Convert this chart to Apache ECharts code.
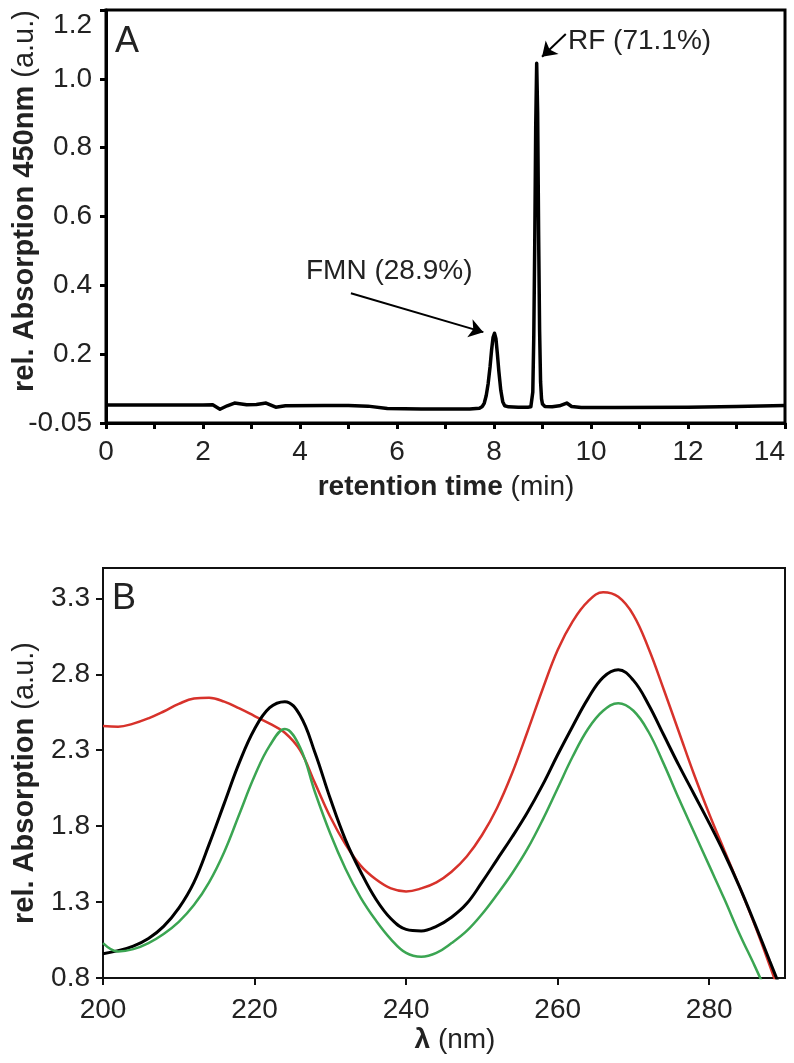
<!DOCTYPE html>
<html lang="en">
<head>
<meta charset="UTF-8">
<script src="https://cdn.jsdelivr.net/npm/echarts@6/dist/echarts.min.js"></script>
<title>HPLC and UV spectra</title>
<style>
  body { margin: 0; background: #fff; }
  #chart { width: 794px; height: 1063px; }
</style>
</head>
<body>
<div id="chart"></div>
<script>
// panel A: HPLC trace (retention time in min, absorption at 450 nm)
var timeA = [0, 1, 2, 2.2, 2.35, 2.5, 2.65, 2.9, 3.1, 3.3, 3.5, 3.7, 4.5, 5.0, 5.4, 5.8, 6.5, 7.5, 7.7, 7.76,
  7.8, 7.84, 7.88, 7.92, 7.95, 7.98, 8.01, 8.04, 8.07, 8.10, 8.14, 8.18, 8.22, 8.3, 8.5, 8.7, 8.76, 8.78,
  8.80, 8.82, 8.84, 8.86, 8.88, 8.90, 8.92, 8.94, 8.96, 8.98, 9.0, 9.05, 9.2, 9.35, 9.5, 9.6, 9.8,
  10.5, 12, 13, 14];
var absA = [0.052, 0.052, 0.052, 0.053, 0.040, 0.050, 0.058, 0.053, 0.054, 0.058, 0.046, 0.050, 0.051, 0.051, 0.049, 0.042, 0.041, 0.041, 0.043, 0.048,
  0.058, 0.080, 0.115, 0.165, 0.212, 0.248, 0.261, 0.245, 0.200, 0.150, 0.095, 0.062, 0.050, 0.047, 0.046, 0.046, 0.047, 0.052,
  0.090, 0.250, 0.520, 0.860, 1.045, 0.900, 0.550, 0.270, 0.120, 0.070, 0.055, 0.048, 0.047, 0.050, 0.058, 0.048, 0.045,
  0.045, 0.046, 0.048, 0.051];
var yLabelsA = ['-0.05', '0.2', '0.4', '0.6', '0.8', '1.0', '1.2'];

// panel B: absorption spectra
var wavelength = [200, 202, 204, 206, 208, 210, 212, 214, 216, 218, 220, 222, 224, 226, 228, 230, 232, 234, 236, 238,
  240, 242, 244, 246, 248, 250, 252, 254, 256, 258, 260, 262, 264, 266, 268, 270, 272, 274, 276, 278,
  280, 282, 284, 286, 288, 290];
var redAbs = [2.46, 2.455, 2.475, 2.51, 2.555, 2.605, 2.64, 2.645, 2.62, 2.575, 2.525, 2.475, 2.415, 2.30, 2.08, 1.86, 1.68, 1.54, 1.45, 1.39,
  1.37, 1.39, 1.43, 1.50, 1.60, 1.74, 1.92, 2.15, 2.42, 2.70, 2.96, 3.15, 3.28, 3.34, 3.31, 3.19, 2.97, 2.70, 2.42, 2.14,
  1.88, 1.64, 1.40, 1.15, 0.88, 0.60];
var blackAbs = [0.96, 0.98, 1.01, 1.06, 1.14, 1.26, 1.43, 1.68, 1.95, 2.22, 2.44, 2.58, 2.62, 2.53, 2.28, 1.98, 1.71, 1.50, 1.32, 1.19,
  1.12, 1.11, 1.14, 1.20, 1.29, 1.43, 1.58, 1.73, 1.89, 2.07, 2.27, 2.46, 2.64, 2.78, 2.83, 2.76, 2.60, 2.40, 2.20, 2.01,
  1.82, 1.62, 1.40, 1.16, 0.91, 0.66];
var greenAbs = [1.03, 0.975, 0.99, 1.03, 1.09, 1.17, 1.28, 1.43, 1.63, 1.88, 2.13, 2.33, 2.44, 2.32, 2.02, 1.75, 1.52, 1.33, 1.18, 1.055,
  0.965, 0.94, 0.965, 1.03, 1.11, 1.22, 1.35, 1.49, 1.65, 1.84, 2.05, 2.26, 2.44, 2.56, 2.61, 2.56, 2.42, 2.21, 1.98, 1.76,
  1.54, 1.32, 1.09, 0.88, 0.66, 0.45];
var xTicksB = [200, 220, 240, 260, 280];
var yTicksB = [0.8, 1.3, 1.8, 2.3, 2.8, 3.3];

function pairs(xs, ys) {
  return xs.map(function (x, i) { return [x, ys[i]]; });
}

var FONT = '"Liberation Sans", Arial, sans-serif';
var labelStyle = { fontSize: 28, color: '#222', fontFamily: FONT };

// rich text for titles: bold part + normal part
function titleRich(size) {
  return {
    b: { fontSize: size, fontWeight: 'bold', fontFamily: FONT, fill: '#222' },
    n: { fontSize: size, fontFamily: FONT, fill: '#222' }
  };
}

var chart = echarts.init(document.getElementById('chart'), null, { renderer: 'canvas' });

var option = {
  animation: false,
  backgroundColor: '#fff',
  grid: [
    { left: 106, top: 10, width: 679, height: 413, show: true, borderColor: '#000', borderWidth: 3, backgroundColor: 'transparent' },
    { left: 103, top: 568, width: 682, height: 410, show: true, borderColor: '#111', borderWidth: 2, backgroundColor: 'transparent' }
  ],
  xAxis: [
    {
      gridIndex: 0, type: 'value', min: 0, max: 14, interval: 2,
      axisLine: { lineStyle: { color: '#000', width: 3 } },
      axisTick: { length: 6, lineStyle: { color: '#000', width: 3 } },
      minorTick: { show: true, splitNumber: 2, length: 6, lineStyle: { color: '#000', width: 3 } },
      splitLine: { show: false },
      axisLabel: Object.assign({ margin: 15, alignMaxLabel: 'right' }, labelStyle)
    },
    {
      gridIndex: 1, type: 'value', min: 200, max: 290,
      axisLine: { lineStyle: { color: '#111', width: 2 } },
      axisTick: { length: 7, customValues: xTicksB, lineStyle: { color: '#111', width: 2 } },
      splitLine: { show: false },
      axisLabel: Object.assign({ margin: 18, customValues: xTicksB }, labelStyle)
    }
  ],
  yAxis: [
    {
      gridIndex: 0, type: 'value', min: 0, max: 1.2, interval: 0.2,
      axisLine: { lineStyle: { color: '#000', width: 3 } },
      axisTick: { length: 6, lineStyle: { color: '#000', width: 3 } },
      splitLine: { show: false },
      axisLabel: Object.assign({
        margin: 14,
        formatter: function (v) {
          var i = Math.round(v / 0.2);
          if (i === yLabelsA.length - 1) return '{top|' + yLabelsA[i] + '}';
          return yLabelsA[i];
        },
        rich: { top: { fontSize: 28, color: '#222', fontFamily: FONT, padding: [30, 0, 0, 0] } }
      }, labelStyle)
    },
    {
      gridIndex: 1, type: 'value', min: 0.8, max: 3.5,
      axisLine: { lineStyle: { color: '#111', width: 2 } },
      axisTick: { length: 7, customValues: yTicksB, lineStyle: { color: '#111', width: 2 } },
      splitLine: { show: false },
      axisLabel: Object.assign({ margin: 13, customValues: yTicksB, formatter: function (v) { return v.toFixed(1); } }, labelStyle)
    }
  ],
  series: [
    {
      type: 'line', xAxisIndex: 0, yAxisIndex: 0,
      data: pairs(timeA, absA),
      showSymbol: false, smooth: false,
      lineStyle: { color: '#000', width: 3.5, join: 'round' },
      markLine: {
        silent: true, animation: false,
        symbol: ['none', 'arrow'], symbolSize: 14,
        label: { show: false },
        lineStyle: { color: '#000', width: 2, type: 'solid' },
        data: [
          [{ coord: [5.05, 0.377] }, { coord: [7.78, 0.264] }],
          [{ coord: [9.48, 1.13] }, { coord: [8.99, 1.064] }]
        ]
      }
    },
    {
      name: 'red', type: 'line', xAxisIndex: 1, yAxisIndex: 1,
      data: pairs(wavelength, redAbs), showSymbol: false, smooth: 0.4, clip: true,
      lineStyle: { color: '#d7322b', width: 2.5 }
    },
    {
      name: 'black', type: 'line', xAxisIndex: 1, yAxisIndex: 1,
      data: pairs(wavelength, blackAbs), showSymbol: false, smooth: 0.4, clip: true,
      lineStyle: { color: '#000', width: 3 }
    },
    {
      name: 'green', type: 'line', xAxisIndex: 1, yAxisIndex: 1,
      data: pairs(wavelength, greenAbs), showSymbol: false, smooth: 0.4, clip: true,
      lineStyle: { color: '#3ba552', width: 2.5 }
    }
  ],
  graphic: [
    { type: 'text', x: 127, y: 42, style: { text: 'A', font: '36px ' + FONT, fill: '#222', align: 'center', verticalAlign: 'middle' } },
    { type: 'text', x: 124, y: 599, style: { text: 'B', font: '36px ' + FONT, fill: '#222', align: 'center', verticalAlign: 'middle' } },
    { type: 'text', x: 306, y: 271, style: { text: 'FMN (28.9%)', font: '28px ' + FONT, fill: '#222', align: 'left', verticalAlign: 'middle' } },
    { type: 'text', x: 568, y: 41, style: { text: 'RF (71.1%)', font: '28px ' + FONT, fill: '#222', align: 'left', verticalAlign: 'middle' } },
    {
      type: 'text', x: 446, y: 487,
      style: { text: '{b|retention time}{n| (min)}', align: 'center', verticalAlign: 'middle', rich: titleRich(28) }
    },
    {
      type: 'text', x: 25, y: 201, rotation: Math.PI / 2,
      style: { text: '{b|rel. Absorption 450nm}{n| (a.u.)}', align: 'center', verticalAlign: 'middle', rich: titleRich(29) }
    },
    {
      type: 'text', x: 455, y: 1040,
      style: { text: '{b|λ}{n| (nm)}', align: 'center', verticalAlign: 'middle', rich: titleRich(28) }
    },
    {
      type: 'text', x: 25, y: 783, rotation: Math.PI / 2,
      style: { text: '{b|rel. Absorption}{n| (a.u.)}', align: 'center', verticalAlign: 'middle', rich: titleRich(29) }
    }
  ]
};

chart.setOption(option);
</script>
</body>
</html>
